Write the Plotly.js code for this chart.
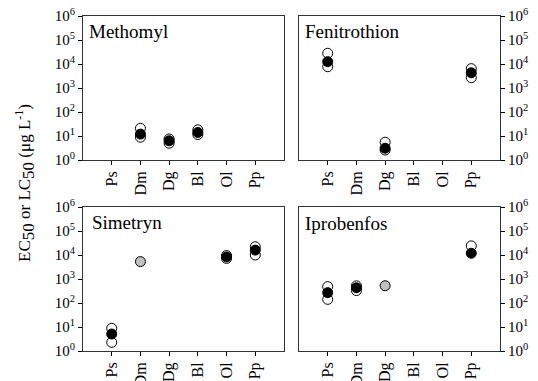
<!DOCTYPE html>
<html>
<head>
<meta charset="utf-8">
<script src="https://cdn.plot.ly/plotly-3.0.1.min.js"></script>
<style>html,body{margin:0;padding:0;background:#fff;}#chart{width:538px;height:381px;}</style>
</head>
<body>
<div id="chart"></div>
<script>
var categories = ['Ps','Dm','Dg','Bl','Ol','Pp'];
var yTickVals = [1, 10, 100, 1000, 10000, 100000, 1000000];
var yTickText = ['10<sup>0</sup>','10<sup>1</sup>','10<sup>2</sup>','10<sup>3</sup>','10<sup>4</sup>','10<sup>5</sup>','10<sup>6</sup>'];
var panelTitles = ['Methomyl','Fenitrothion','Simetryn','Iprobenfos'];
var yTitle = 'EC<sub><span style="font-size:17px">50</span></sub> or LC<sub><span style="font-size:17px">50</span></sub> (μg L<sup>-1</sup>)';

var methomylOpenX = ['Dm','Dm','Dg','Dg','Bl','Bl'];
var methomylOpenY = [21, 8.9, 5, 7.5, 18, 11.5];
var methomylFilledX = ['Dm','Dg','Bl'];
var methomylFilledY = [12, 6.3, 14];

var fenitrothionOpenX = ['Ps','Ps','Dg','Dg','Pp','Pp'];
var fenitrothionOpenY = [28000, 7700, 5.5, 2.6, 6400, 2700];
var fenitrothionFilledX = ['Ps','Dg','Pp'];
var fenitrothionFilledY = [12500, 3.1, 4300];

var simetrynOpenX = ['Ps','Ps','Ol','Ol','Pp','Pp'];
var simetrynOpenY = [8.8, 2.3, 9500, 7200, 22000, 10000];
var simetrynFilledX = ['Ps','Ol','Pp'];
var simetrynFilledY = [5.1, 8300, 16000];
var simetrynGrayX = ['Dm'];
var simetrynGrayY = [5300];

var iprobenfosOpenX = ['Ps','Ps','Dm','Dm','Pp'];
var iprobenfosOpenY = [480, 142, 520, 330, 24000];
var iprobenfosFilledX = ['Ps','Dm','Pp'];
var iprobenfosFilledY = [270, 430, 11800];
var iprobenfosGrayX = ['Dg'];
var iprobenfosGrayY = [525];

function idx(arr){ return arr.map(function(c){ return categories.indexOf(c); }); }

var FONT = '"Liberation Serif", "Times New Roman", serif';
var markerOpen = {size: 10, color: '#ffffff', line: {color: '#000000', width: 1}};
var markerFilled = {size: 10, color: '#000000', line: {color: '#000000', width: 1}};
var markerGray = {size: 10, color: '#c0c0c0', line: {color: '#000000', width: 1}};

function tr(x, y, m, ax){
  return {x: idx(x), y: y, type: 'scatter', mode: 'markers', marker: m,
          xaxis: 'x' + ax, yaxis: 'y' + ax, showlegend: false, hoverinfo: 'skip'};
}

var data = [
  tr(methomylOpenX, methomylOpenY, markerOpen, ''),
  tr(methomylFilledX, methomylFilledY, markerFilled, ''),
  tr(fenitrothionOpenX, fenitrothionOpenY, markerOpen, '2'),
  tr(fenitrothionFilledX, fenitrothionFilledY, markerFilled, '2'),
  tr(simetrynOpenX, simetrynOpenY, markerOpen, '3'),
  tr(simetrynFilledX, simetrynFilledY, markerFilled, '3'),
  tr(simetrynGrayX, simetrynGrayY, markerGray, '3'),
  tr(iprobenfosOpenX, iprobenfosOpenY, markerOpen, '4'),
  tr(iprobenfosFilledX, iprobenfosFilledY, markerFilled, '4'),
  tr(iprobenfosGrayX, iprobenfosGrayY, markerGray, '4')
];

function xa(dom, anchor){
  return {domain: dom, anchor: anchor, range: [-1, 6], tickvals: [0,1,2,3,4,5], ticktext: categories,
          tickangle: -90, ticks: 'outside', ticklen: 4, tickcolor: '#000', showline: true, mirror: true,
          linecolor: '#333', linewidth: 1, showgrid: false, zeroline: false,
          tickfont: {family: FONT, size: 16, color: '#000'}, fixedrange: true};
}
function ya(dom, anchor, side){
  return {domain: dom, anchor: anchor, type: 'log', range: [0, 6], tickvals: yTickVals, ticktext: yTickText,
          side: side, ticks: 'outside', ticklen: 4, tickcolor: '#000', showline: true, mirror: true,
          linecolor: '#333', linewidth: 1, showgrid: false, zeroline: false,
          tickfont: {family: FONT, size: 15, color: '#000'}, fixedrange: true};
}

var W = 538, H = 381;
var xL = [83/W, 284/W], xR = [299/W, 500/W];
var yT = [(H-160)/H, (H-16)/H], yB = [(H-351)/H, (H-207)/H];

function ann(text, xref, yref, x, y){
  return {text: text, xref: xref, yref: yref, x: x, y: y, xanchor: 'left', yanchor: 'middle',
          showarrow: false, font: {family: FONT, size: 19, color: '#000'}};
}

var layout = {
  width: W, height: H, margin: {l: 0, r: 0, t: 0, b: 0},
  paper_bgcolor: '#fff', plot_bgcolor: '#fff',
  font: {family: FONT},
  xaxis: xa(xL, 'y'), yaxis: ya(yT, 'x', 'left'),
  xaxis2: xa(xR, 'y2'), yaxis2: ya(yT, 'x2', 'right'),
  xaxis3: xa(xL, 'y3'), yaxis3: ya(yB, 'x3', 'left'),
  xaxis4: xa(xR, 'y4'), yaxis4: ya(yB, 'x4', 'right'),
  annotations: [
    ann(panelTitles[0], 'x domain', 'y domain', 0.02, 0.89),
    ann(panelTitles[1], 'x2 domain', 'y2 domain', 0.02, 0.895),
    ann(panelTitles[2], 'x3 domain', 'y3 domain', 0.035, 0.895),
    ann(panelTitles[3], 'x4 domain', 'y4 domain', 0.02, 0.885),
    {text: yTitle, xref: 'paper', yref: 'paper', x: 25/W, y: (H-183)/H, xanchor: 'center', yanchor: 'middle',
     textangle: -90, showarrow: false, font: {family: FONT, size: 17, color: '#000'}}
  ]
};

Plotly.newPlot('chart', data, layout, {displayModeBar: false, staticPlot: true});
</script>
</body>
</html>
